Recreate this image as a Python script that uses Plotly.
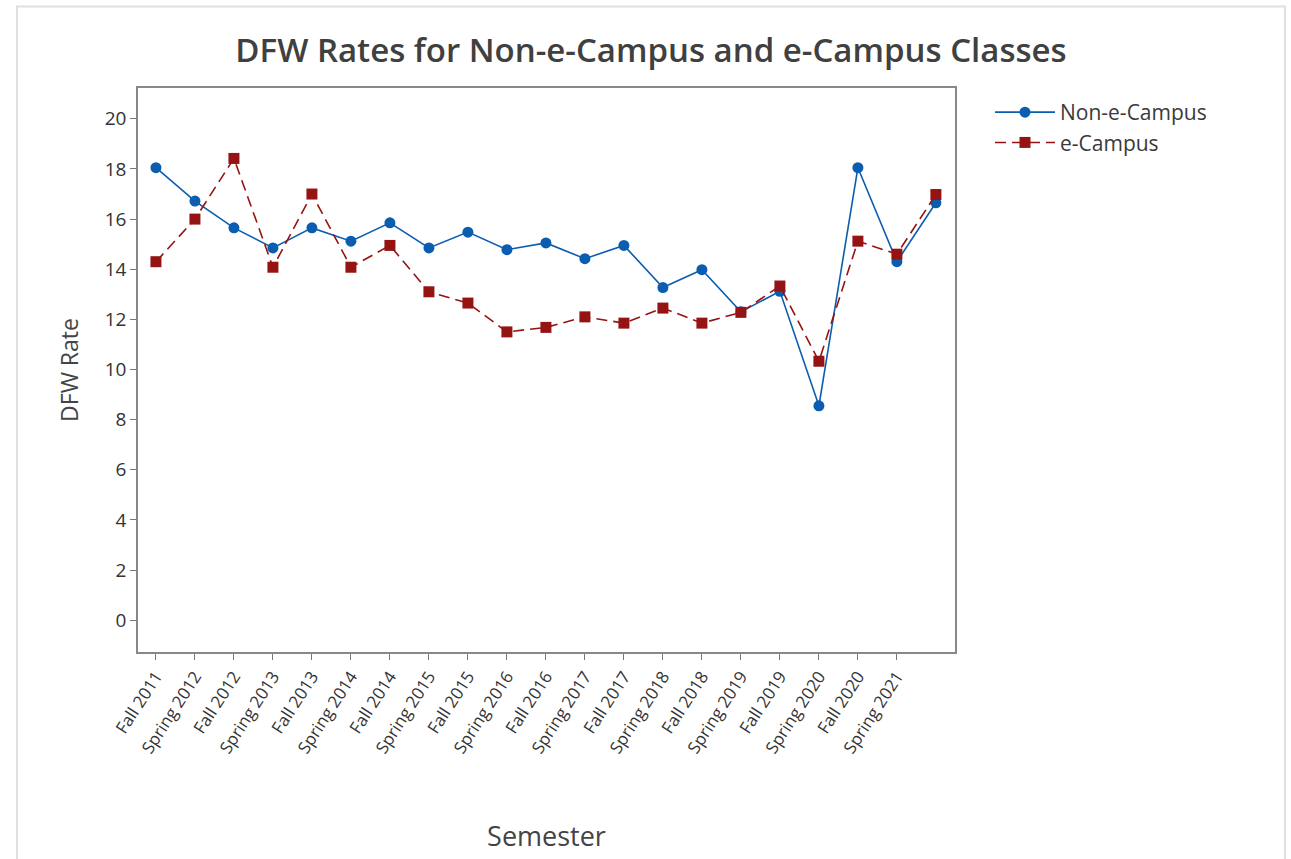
import plotly.graph_objects as go

semesters = ["Fall 2011", "Spring 2012", "Fall 2012", "Spring 2013", "Fall 2013",
             "Spring 2014", "Fall 2014", "Spring 2015", "Fall 2015", "Spring 2016",
             "Fall 2016", "Spring 2017", "Fall 2017", "Spring 2018", "Fall 2018",
             "Spring 2019", "Fall 2019", "Spring 2020", "Fall 2020", "Spring 2021"]
x_index = list(range(1, 22))
non_ecampus = [18.05, 16.72, 15.65, 14.85, 15.65, 15.12, 15.85, 14.85, 15.48, 14.78,
               15.05, 14.42, 14.95, 13.27, 13.98, 12.3, 13.12, 8.55, 18.05, 14.3, 16.65]
ecampus = [14.3, 16.0, 18.42, 14.08, 17.0, 14.08, 14.95, 13.1, 12.65, 11.5,
           11.68, 12.1, 11.85, 12.45, 11.85, 12.28, 13.33, 10.33, 15.12, 14.6, 16.98]

BLUE = "#0B5DB0"
RED = "#951313"
FONT = "Open Sans, Noto Sans, DejaVu Sans, sans-serif"

fig = go.Figure()
fig.add_trace(go.Scatter(
    x=x_index, y=non_ecampus, name="Non-e-Campus", mode="lines+markers",
    line=dict(color=BLUE, width=1.6),
    marker=dict(symbol="circle", size=11, color=BLUE)))
fig.add_trace(go.Scatter(
    x=x_index, y=ecampus, name="e-Campus", mode="lines+markers",
    line=dict(color=RED, width=1.6, dash="11px,6px"),
    marker=dict(symbol="square", size=11, color=RED)))

L, R, T, B = 138, 336, 88, 204
W, H = 1291, 859
pw, ph = W - L - R, H - T - B

fig.update_layout(
    width=W, height=H,
    margin=dict(l=L, r=R, t=T, b=B),
    paper_bgcolor="white", plot_bgcolor="white",
    font=dict(family=FONT, color="#333333", size=16),
    title=dict(text="DFW Rates for Non-e-Campus and e-Campus Classes",
               x=651 / W, xanchor="center", y=1 - 50 / H, yanchor="middle",
               font=dict(size=33, color="#404040", weight=600)),
    legend=dict(x=(990 - L) / pw, y=1 - (92 - T) / ph, xanchor="left", yanchor="top",
                font=dict(size=21, color="#3a3a3a"), bgcolor="rgba(0,0,0,0)",
                itemwidth=60, tracegroupgap=2),
    showlegend=True,
)
fig.update_xaxes(
    range=[0.54, 21.49], tickmode="array", tickvals=x_index[:20], ticktext=semesters,
    tickangle=-57, ticks="outside", ticklen=6, tickcolor="#777777",
    showline=True, linecolor="#888888", linewidth=1.5, mirror=True,
    showgrid=False, zeroline=False,
    tickfont=dict(size=17, color="#333333"),
    title=dict(text="Semester", font=dict(size=27, color="#444444"), standoff=70),
)
fig.update_yaxes(
    range=[-1.27, 21.23], tickmode="array", tickvals=list(range(0, 21, 2)),
    ticks="outside", ticklen=6, tickcolor="#777777",
    showline=True, linecolor="#888888", linewidth=1.5, mirror=True,
    showgrid=False, zeroline=False,
    tickfont=dict(size=19, color="#333333"),
    title=dict(text="DFW Rate", font=dict(size=23, color="#444444"), standoff=20),
)
# outer light frame around the whole graphic
fig.add_shape(type="rect", xref="paper", yref="paper",
              x0=(17 - L) / pw, x1=(1285 - L) / pw, y0=1 - (880 - T) / ph, y1=1 - (6 - T) / ph,
              line=dict(color="#E0E0E0", width=2), layer="below")

fig.write_html("out.html", config={"displayModeBar": False},
               post_script="document.body.style.margin='0';")
